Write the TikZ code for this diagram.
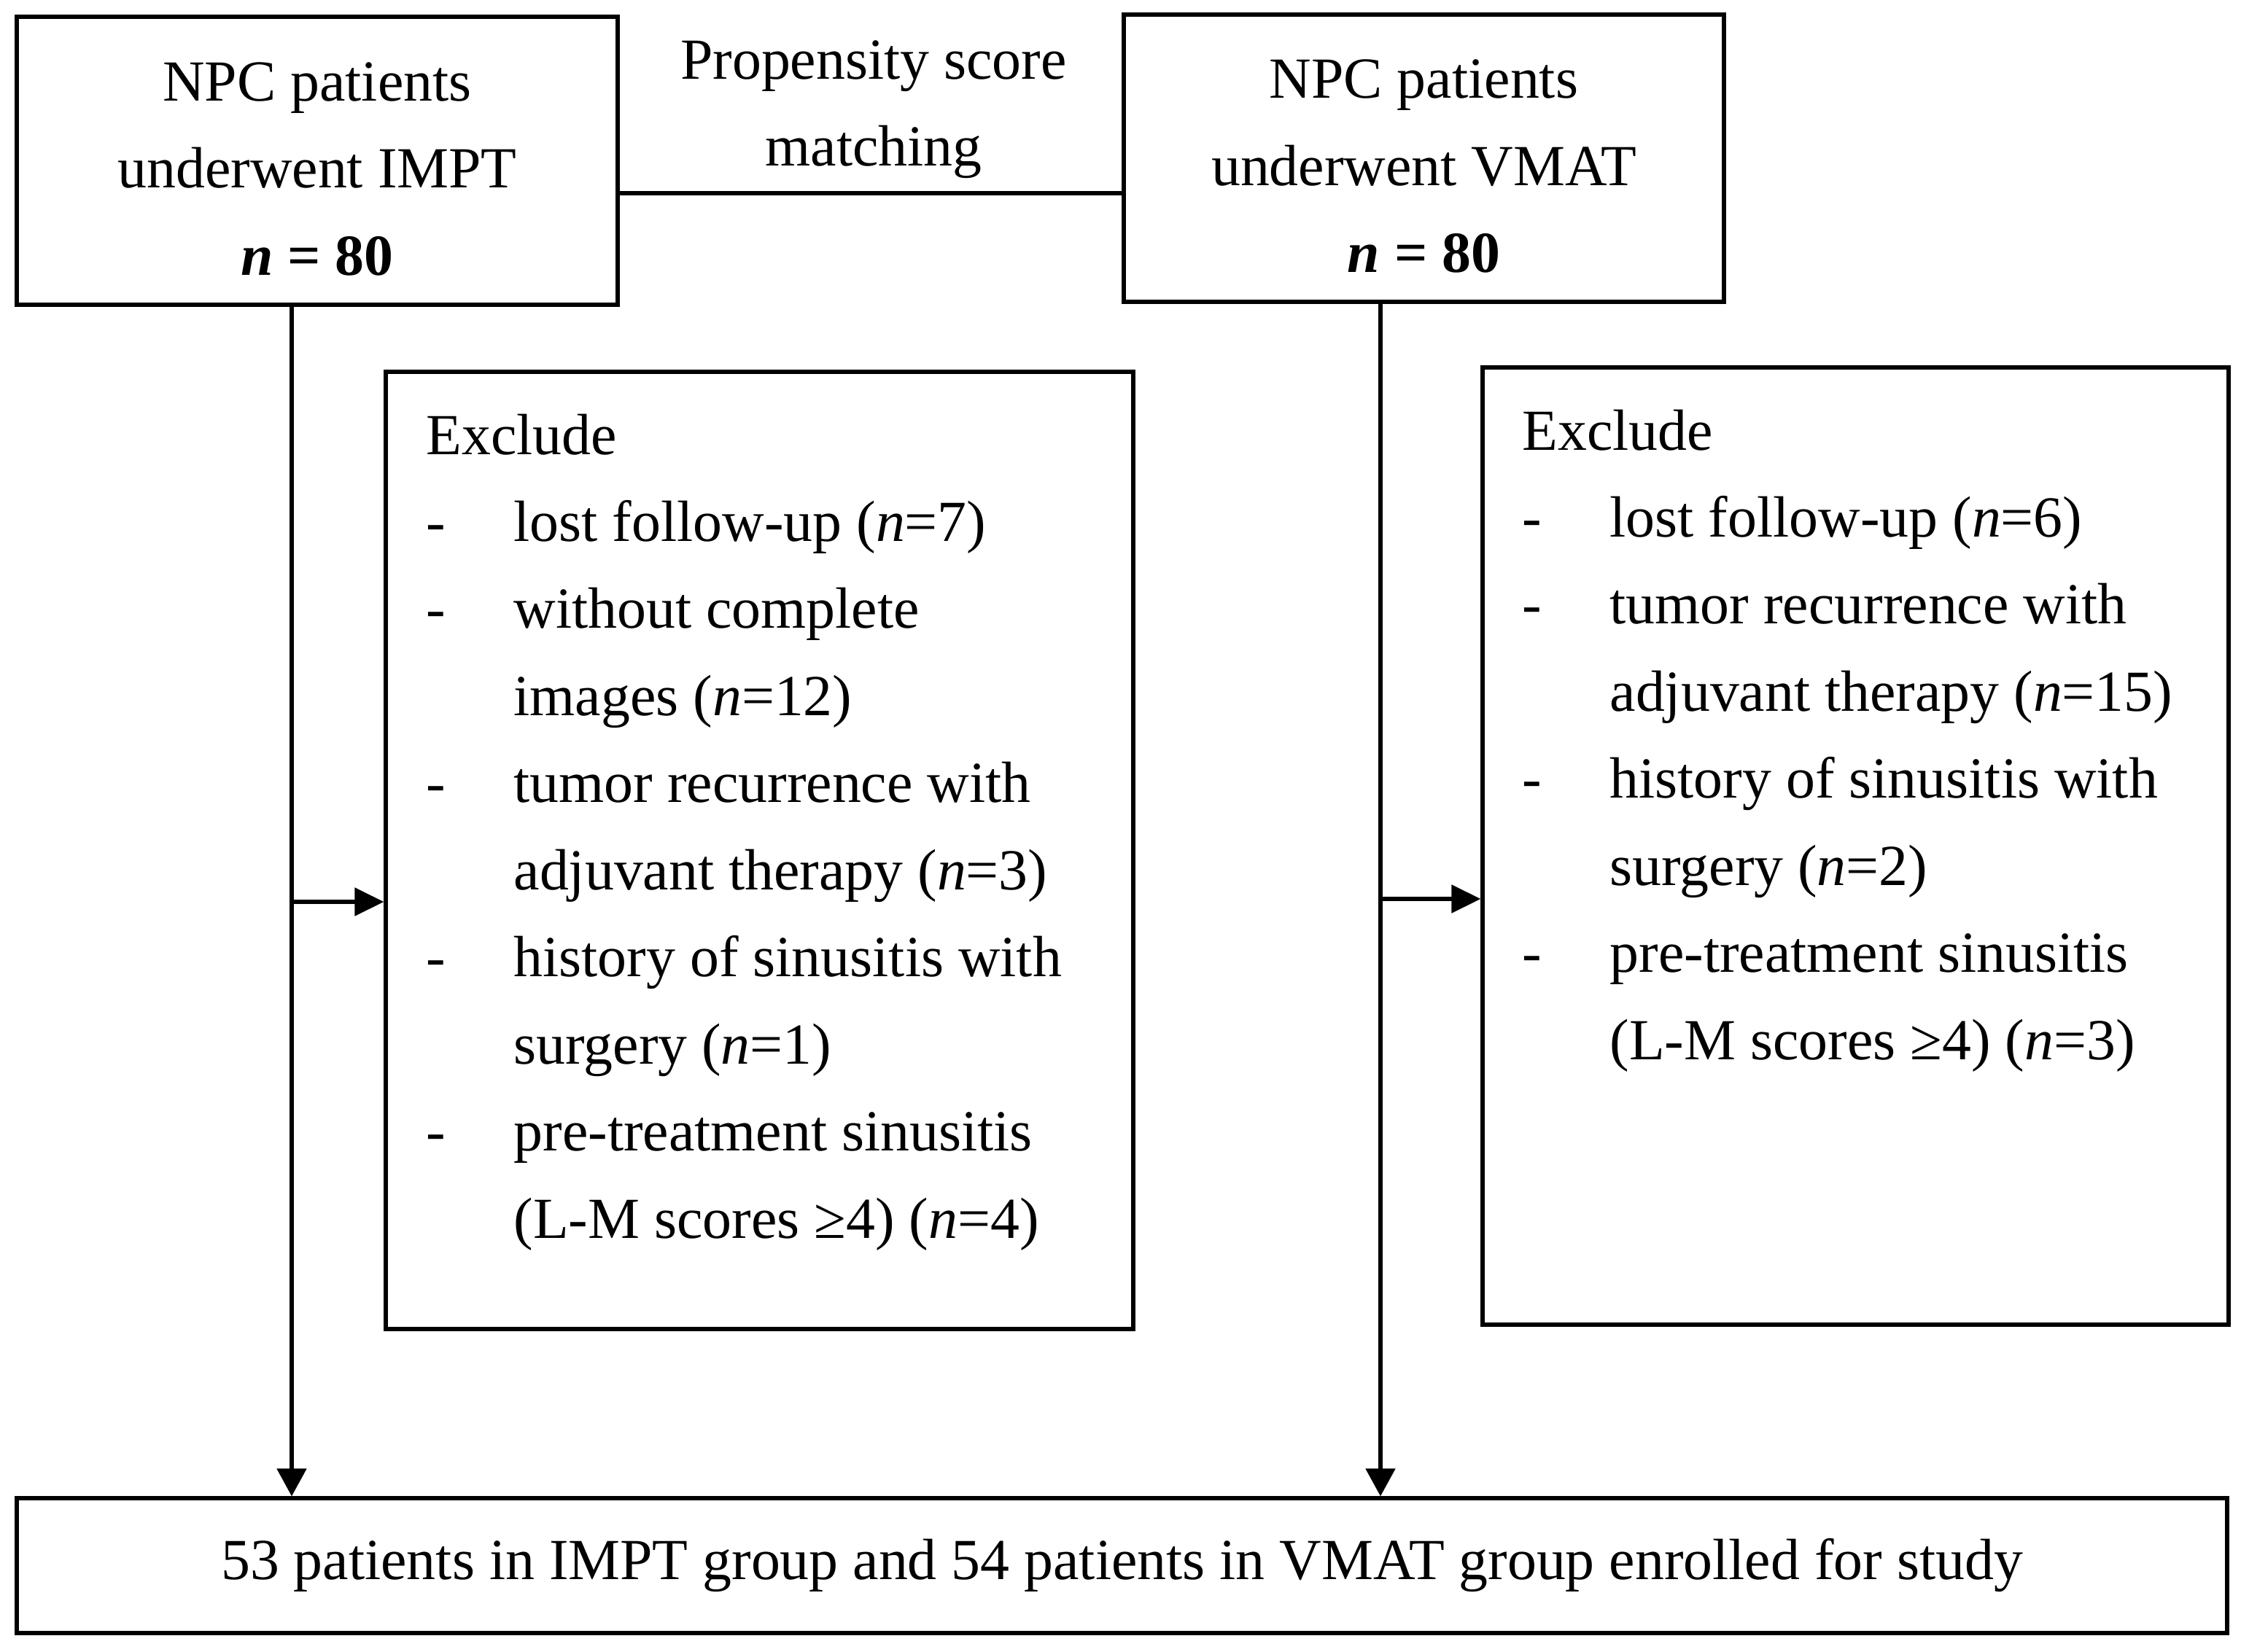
\documentclass[tikz,border=0pt]{standalone}
\usepackage{fontspec}
\setmainfont{Liberation Serif}
\usetikzlibrary{arrows.meta}

\begin{document}
\begin{tikzpicture}[line width=1.5pt, font=\fontsize{22.7}{34}\selectfont]
            \useasboundingbox (0,0) rectangle (30.73,-22.66);
            \begin{scope}[every node/.style={draw,rectangle,align=center,inner sep=0pt}]
            \node (impt) at (4.35,-2.205) [minimum width=8.24cm, minimum height=3.95cm] {\rule{0pt}{0.75cm}NPC patients\\underwent IMPT\\\textbf{\textit{n} = 80}};
            \node (vmat) at (19.525,-2.17) [minimum width=8.23cm, minimum height=3.94cm] {\rule{0pt}{0.75cm}NPC patients\\underwent VMAT\\\textbf{\textit{n} = 80}};
            \node (exclL) at (10.415,-11.665) [minimum width=10.25cm, minimum height=13.13cm] {};
            \node (exclR) at (25.445,-11.605) [minimum width=10.23cm, minimum height=13.13cm] {};
            \node (study) at (15.385,-21.475) [minimum width=30.31cm, minimum height=1.85cm] {53 patients in IMPT group and 54 patients in VMAT group enrolled for study};
            \end{scope}
            \node (psm) at (11.98,-1.50) [align=center, inner sep=0pt] {Propensity score\\matching};
            \begin{scope}[every node/.style={anchor=base west,inner sep=0pt}]
            \node (exclLtxt) at (5.82,-6.23) {\begin{tabular}[t]{@{}p{1.2cm}@{}l@{}}
            \multicolumn{2}{@{}l@{}}{Exclude}\\
            - & lost follow-up (\textit{n}=7)\\
            - & without complete\\
              & images (\textit{n}=12)\\
            - & tumor recurrence with\\
              & adjuvant therapy (\textit{n}=3)\\
            - & history of sinusitis with\\
              & surgery (\textit{n}=1)\\
            - & pre-treatment sinusitis\\
              & (L-M scores ≥4) (\textit{n}=4)
            \end{tabular}};
            \node (exclRtxt) at (20.85,-6.17) {\begin{tabular}[t]{@{}p{1.2cm}@{}l@{}}
            \multicolumn{2}{@{}l@{}}{Exclude}\\
            - & lost follow-up (\textit{n}=6)\\
            - & tumor recurrence with\\
              & adjuvant therapy (\textit{n}=15)\\
            - & history of sinusitis with\\
              & surgery (\textit{n}=2)\\
            - & pre-treatment sinusitis\\
              & (L-M scores ≥4) (\textit{n}=3)
            \end{tabular}};
            \end{scope}
            \coordinate (imptout) at (4.00,-4.18);
            \coordinate (imptmid) at (4.00,-12.37);
            \coordinate (vmatout) at (18.93,-4.14);
            \coordinate (vmatmid) at (18.93,-12.33);
            \begin{scope}[every edge/.style={draw=black,line width=1.5pt}]
            \draw ([yshift=-0.445cm]impt.east) edge ([yshift=-0.445cm]impt.east -| vmat.west);
            \draw (imptout) edge[-{Triangle[length=0.38cm,width=0.4cm]}] (imptout |- study.north);
            \draw (vmatout) edge[-{Triangle[length=0.38cm,width=0.4cm]}] (vmatout |- study.north);
            \draw (imptmid) edge[-{Triangle[length=0.4cm,width=0.38cm]}] (imptmid -| exclL.west);
            \draw (vmatmid) edge[-{Triangle[length=0.4cm,width=0.38cm]}] (vmatmid -| exclR.west);
            \end{scope}
            \end{tikzpicture}
\end{document}
